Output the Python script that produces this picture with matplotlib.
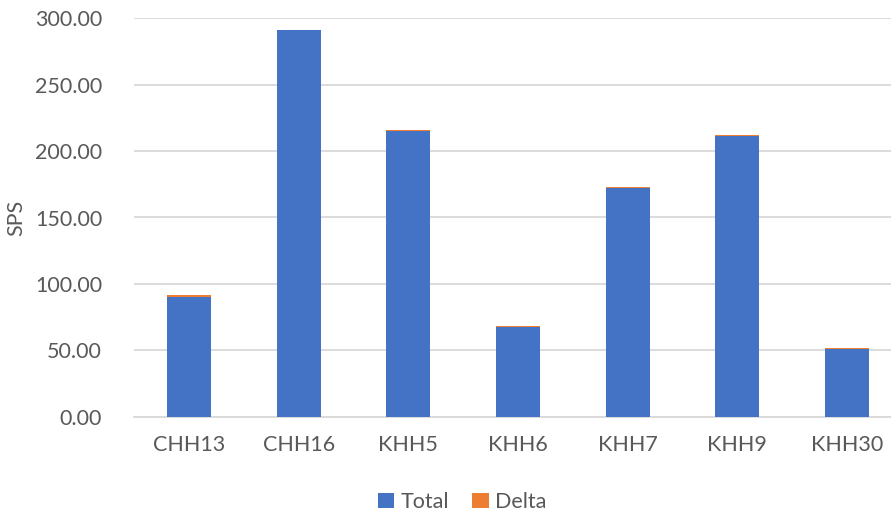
import matplotlib
matplotlib.use("Agg")
import matplotlib.pyplot as plt
from matplotlib.ticker import FuncFormatter

sites = ["CHH13", "CHH16", "KHH5", "KHH6", "KHH7", "KHH9", "KHH30"]
total = [90.4, 291.0, 215.1, 67.6, 172.2, 211.0, 51.0]
delta = [1.0, 0.4, 1.0, 0.9, 0.8, 1.0, 1.0]

BLUE = "#4472C4"
ORANGE = "#ED7D31"
TEXT = "#595959"
GRID = "#D9D9D9"

plt.rcParams["font.family"] = ["Lato", "DejaVu Sans"]

W, H = 891, 516
fig = plt.figure(figsize=(W / 100, H / 100), dpi=100)
left, right = 134, 902
top, bottom = 18.3, 416.7
ax = fig.add_axes([left / W, (H - bottom) / H, (right - left) / W, (bottom - top) / H])

x = list(range(len(sites)))
ax.bar(x, total, width=0.4, color=BLUE, label="Total", zorder=3)
ax.bar(x, delta, width=0.4, bottom=total, color=ORANGE, label="Delta", zorder=3)

ax.set_xlim(-0.5, len(sites) - 0.5)
ax.set_ylim(0, 300)
ax.set_yticks(range(0, 301, 50))
ax.yaxis.set_major_formatter(FuncFormatter(lambda v, p: f"{v:.2f}"))
ax.set_xticks(x)
ax.set_xticklabels(sites)

ax.grid(axis="y", color=GRID, linewidth=1.3, zorder=0)
for s in ["top", "right", "left"]:
    ax.spines[s].set_visible(False)
ax.spines["bottom"].set_color(GRID)
ax.spines["bottom"].set_linewidth(1.3)
ax.tick_params(axis="both", length=0, labelsize=15.5, colors=TEXT)
ax.tick_params(axis="y", pad=23)
ax.tick_params(axis="x", pad=13)

ax.set_ylabel("SPS", fontsize=15.5, color=TEXT, labelpad=6)

fig.legend(loc="center", bbox_to_anchor=(462 / W, 1 - 502 / H), ncol=2, frameon=False,
           fontsize=15.5, handlelength=0.75, handleheight=0.75, handletextpad=0.3,
           columnspacing=1.1, labelcolor=TEXT)

fig.savefig("out.png", dpi=100)
